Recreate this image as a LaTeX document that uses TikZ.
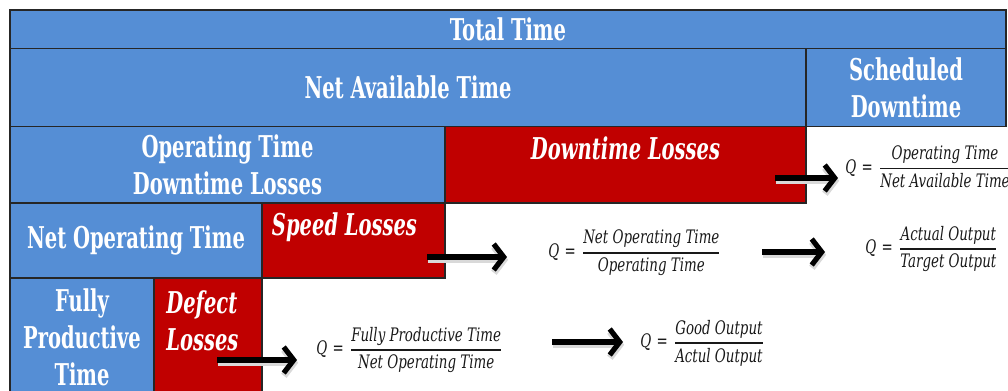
\documentclass[tikz,border=0pt]{standalone}
\usepackage{amsmath}
\usepackage{fontspec}
\newfontfamily\cellfont[FakeStretch=0.65]{DejaVu Serif}
\newfontfamily\fracfont[FakeStretch=0.72]{DejaVu Serif}
\usepackage{tikz}
\usetikzlibrary{arrows.meta,positioning}
\definecolor{oeeblue}{RGB}{85,142,213}
\definecolor{oeered}{RGB}{192,0,0}
\newcommand{\qratio}[2]{$\displaystyle\hbox{\itshape Q}\mathrel{\hbox{=}}\genfrac{}{}{0.7pt}{0}{\hbox{\itshape #1}}{\hbox{\itshape #2}}$}
\tikzset{
  basic/.style  = {draw=black!85, line width=0.75pt, rectangle, anchor=north west,
                   inner sep=0pt, outer sep=0pt, align=center, text=white,
                   font=\cellfont\bfseries\fontsize{15}{18.5}\selectfont},
  time/.style   = {basic, fill=oeeblue},
  loss/.style   = {basic, fill=oeered},
  losstext/.style = {inner sep=0pt, align=left, text=white,
                   font=\cellfont\bfseries\itshape\fontsize{15}{18.5}\selectfont},
  ratio/.style  = {anchor=west, inner sep=0pt, text=black!90,
                   font=\fracfont\fontsize{9.3}{10}\selectfont},
  bigarrow/.style = {line width=2.6pt, -{Straight Barb[length=5pt,width=13pt]},
                   preaction={draw=black!15, line width=3.4pt,
                   -{Straight Barb[length=5pt,width=13pt]},
                   transform canvas={shift={(0.6pt,-1.4pt)}}}}
}

\begin{document}
\begin{tikzpicture}[x=0.5pt, y=-0.5pt]
\useasboundingbox (0,0) rectangle (1008,391);

% the time blocks, each row placed under the one above
\node[time, minimum width=498pt, minimum height=19.25pt] (tot) at (10,10) {Total Time};
\node[time, minimum width=398pt, minimum height=39pt] (nat) at (tot.south west) {Net Available Time};
\node[time, minimum width=100pt, minimum height=39pt] (sd) at (nat.north east) {Scheduled\\Downtime};

\node[time, minimum width=217.5pt, minimum height=38.25pt] (opt) at (nat.south west) {Operating Time\\Downtime Losses};
\node[loss, minimum width=180.5pt, minimum height=38.25pt] (dtl) at (opt.north east) {};

\node[time, minimum width=126pt, minimum height=37.5pt] (nopt) at (opt.south west) {Net Operating Time};
\node[loss, minimum width=91.5pt, minimum height=37.5pt] (spl) at (nopt.north east) {};

\node[time, minimum width=72pt, minimum height=59pt] (fpt) at (nopt.south west) {Fully\\Productive\\Time};
\node[loss, minimum width=54pt, minimum height=59pt] (dfl) at (fpt.north east) {};

% labels of the losses
\node[losstext, below=5pt of dtl.north] (dtlt) {Downtime Losses};
\node[losstext, below=4.5pt of spl.north, xshift=-4.5pt] (splt) {Speed Losses};
\node[losstext, below right=6pt and 6pt of dfl.north west] (dflt) {Defect\\Losses};

% the ratios
\node[ratio] (r1) at (845,167) {\qratio{Operating Time}{Net Available Time}};
\node[ratio] (r2) at (548,253) {\qratio{Net Operating Time}{Operating Time}};
\node[ratio] (r3) at (865,249) {\qratio{Actual Output}{Target Output}};
\node[ratio] (r4) at (316,350) {\qratio{Fully Productive Time}{Net Operating Time}};
\node[ratio] (r5) at (640,343) {\qratio{Good Output}{Actul Output}};

% arrows
\foreach \n/\xa/\xb/\y in {1/775/838/178, 2/427/507/257, 3/217/297/360,
                           4/762/825/252, 5/552/623/342}
{
  \coordinate (arr\n s) at (\xa,\y);
  \coordinate (arr\n e) at (\xb,\y);
  \draw[bigarrow] (arr\n s) -- (arr\n e);
}
\end{tikzpicture}
\end{document}
